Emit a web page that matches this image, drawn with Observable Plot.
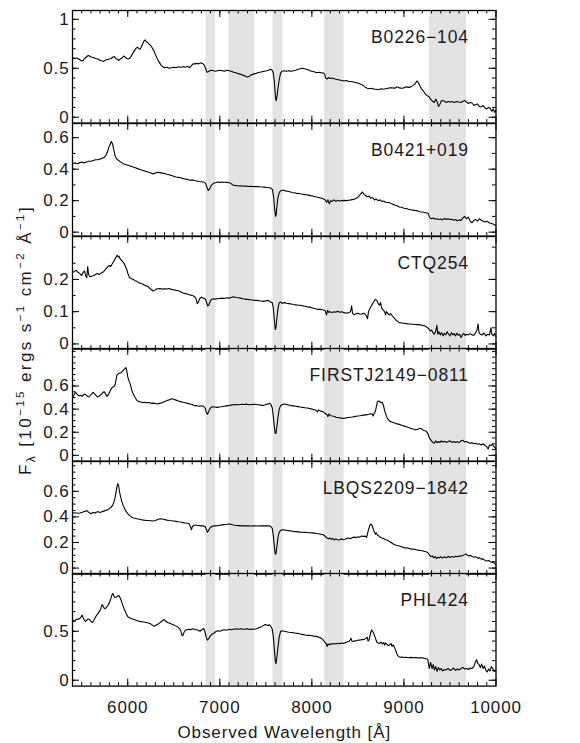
<!DOCTYPE html>
<html><head><meta charset="utf-8">
<script src="https://cdn.jsdelivr.net/npm/d3@7"></script>
<script src="https://cdn.jsdelivr.net/npm/@observablehq/plot@0.6"></script>
<style>
body{margin:0;background:#fff;}
#chart{position:relative;width:580px;height:743px;overflow:hidden;font-family:"Liberation Sans",Arial,sans-serif;}
#chart svg{position:absolute;left:0;overflow:visible;}
</style></head><body><div id="chart"></div>
<script>
// ---- data ----
const objectNames = ["B0226\u2212104","B0421+019","CTQ254","FIRSTJ2149\u22120811","LBQS2209\u22121842","PHL424"];

const specB0226 = [[5400,.61],[5425,.60],[5450,.605],[5475,.59],[5500,.575],[5515,.58],[5530,.60],[5550,.615],[5570,.63],[5585,.625],[5600,.615],[5625,.61],[5650,.60],[5675,.595],[5700,.58],[5725,.575],[5740,.57],[5760,.585],[5780,.59],[5800,.595],[5820,.60],[5840,.615],[5855,.62],[5870,.60],[5890,.59],[5905,.58],[5920,.595],[5940,.605],[5955,.625],[5970,.615],[5990,.60],[6010,.595],[6030,.61],[6050,.645],[6070,.675],[6090,.705],[6105,.715],[6120,.70],[6135,.695],[6150,.725],[6165,.755],[6180,.785],[6190,.79],[6200,.77],[6215,.765],[6230,.75],[6250,.73],[6265,.71],[6285,.675],[6300,.64],[6320,.60],[6340,.565],[6360,.535],[6380,.515],[6400,.505],[6425,.51],[6450,.50],[6475,.505],[6500,.51],[6525,.505],[6550,.515],[6575,.51],[6600,.515],[6625,.51],[6650,.52],[6670,.505],[6690,.525],[6710,.545],[6730,.545],[6750,.55],[6770,.545],[6790,.555],[6810,.55],[6830,.535],[6845,.50],[6860,.46],[6875,.465],[6890,.475],[6910,.48],[6930,.475],[6950,.47],[6975,.475],[7000,.48],[7025,.475],[7050,.47],[7075,.48],[7100,.475],[7125,.47],[7150,.46],[7175,.455],[7200,.445],[7225,.44],[7250,.43],[7275,.42],[7295,.41],[7315,.415],[7335,.43],[7360,.44],[7385,.445],[7410,.455],[7435,.46],[7460,.465],[7485,.47],[7510,.475],[7530,.48],[7550,.49],[7565,.485],[7580,.455],[7592,.37],[7600,.26],[7608,.18],[7614,.17],[7622,.22],[7632,.30],[7645,.38],[7660,.45],[7675,.47],[7700,.475],[7725,.47],[7750,.475],[7775,.47],[7800,.475],[7825,.48],[7850,.49],[7875,.495],[7900,.50],[7920,.495],[7940,.49],[7960,.485],[7980,.475],[8000,.47],[8025,.465],[8050,.455],[8075,.46],[8100,.455],[8125,.45],[8140,.44],[8150,.40],[8165,.39],[8180,.405],[8200,.395],[8225,.40],[8250,.39],[8275,.385],[8300,.38],[8325,.375],[8350,.37],[8375,.375],[8400,.365],[8425,.365],[8450,.36],[8475,.355],[8500,.35],[8525,.34],[8550,.33],[8575,.31],[8600,.295],[8625,.29],[8650,.295],[8675,.285],[8700,.285],[8725,.28],[8750,.29],[8775,.285],[8800,.29],[8825,.295],[8850,.30],[8875,.30],[8900,.295],[8925,.31],[8950,.30],[8975,.295],[9000,.30],[9025,.31],[9050,.305],[9075,.31],[9100,.325],[9120,.34],[9140,.37],[9155,.355],[9170,.33],[9190,.29],[9210,.27],[9230,.24],[9250,.22],[9270,.215],[9285,.19],[9300,.175],[9315,.16],[9330,.15],[9345,.185],[9360,.16],[9375,.11],[9390,.13],[9405,.165],[9420,.17],[9440,.165],[9460,.15],[9480,.16],[9500,.155],[9520,.16],[9545,.15],[9570,.16],[9595,.155],[9620,.15],[9645,.165],[9660,.17],[9680,.155],[9700,.14],[9720,.15],[9740,.145],[9760,.12],[9780,.13],[9800,.135],[9820,.11],[9840,.105],[9860,.12],[9880,.095],[9900,.085],[9920,.10],[9940,.09],[9955,.06],[9970,.085],[9985,.05],[10000,.07]];

const specB0421 = [[5400,.433],[5425,.44],[5450,.435],[5475,.44],[5500,.445],[5525,.44],[5550,.445],[5575,.45],[5600,.45],[5625,.455],[5650,.46],[5675,.46],[5700,.465],[5725,.47],[5745,.475],[5765,.49],[5780,.51],[5795,.54],[5810,.56],[5822,.575],[5835,.56],[5850,.52],[5865,.48],[5880,.465],[5900,.455],[5925,.445],[5950,.435],[5975,.43],[6000,.425],[6025,.42],[6050,.415],[6075,.41],[6100,.405],[6125,.40],[6150,.395],[6175,.39],[6200,.385],[6225,.38],[6250,.375],[6275,.37],[6300,.375],[6325,.38],[6350,.378],[6375,.375],[6400,.372],[6425,.368],[6450,.365],[6475,.36],[6500,.355],[6525,.35],[6550,.348],[6575,.345],[6600,.34],[6625,.338],[6650,.335],[6675,.33],[6700,.332],[6725,.328],[6750,.325],[6775,.322],[6800,.32],[6825,.318],[6845,.31],[6860,.285],[6875,.265],[6890,.275],[6905,.295],[6920,.305],[6940,.312],[6960,.315],[6980,.318],[7000,.316],[7025,.318],[7050,.317],[7075,.316],[7100,.314],[7120,.31],[7140,.30],[7160,.297],[7185,.295],[7210,.293],[7235,.294],[7260,.292],[7285,.293],[7310,.29],[7335,.291],[7360,.29],[7385,.289],[7410,.29],[7435,.288],[7460,.287],[7485,.286],[7510,.284],[7535,.282],[7555,.28],[7572,.27],[7585,.22],[7595,.15],[7605,.10],[7612,.11],[7620,.16],[7630,.215],[7642,.245],[7655,.26],[7670,.265],[7690,.267],[7710,.262],[7735,.26],[7760,.256],[7785,.252],[7810,.25],[7835,.246],[7860,.245],[7885,.242],[7910,.24],[7935,.238],[7960,.235],[7985,.232],[8010,.23],[8035,.225],[8060,.222],[8085,.218],[8110,.214],[8130,.21],[8145,.205],[8160,.19],[8175,.205],[8190,.18],[8205,.2],[8220,.195],[8240,.205],[8260,.195],[8280,.202],[8300,.198],[8325,.2],[8350,.202],[8375,.2],[8400,.203],[8425,.205],[8450,.208],[8475,.212],[8500,.222],[8520,.235],[8540,.25],[8550,.255],[8565,.24],[8580,.235],[8600,.225],[8620,.23],[8640,.215],[8660,.22],[8680,.205],[8700,.21],[8720,.2],[8740,.205],[8760,.195],[8780,.198],[8800,.19],[8825,.188],[8850,.185],[8875,.178],[8900,.172],[8925,.168],[8950,.16],[8975,.158],[9000,.152],[9025,.15],[9050,.145],[9075,.142],[9100,.14],[9125,.138],[9150,.135],[9175,.13],[9200,.128],[9225,.125],[9250,.122],[9265,.118],[9275,.10],[9285,.09],[9300,.085],[9320,.09],[9340,.082],[9360,.085],[9380,.08],[9400,.083],[9420,.078],[9440,.088],[9460,.08],[9480,.085],[9500,.08],[9520,.082],[9540,.076],[9560,.08],[9580,.072],[9600,.078],[9620,.075],[9640,.09],[9660,.1],[9680,.085],[9700,.095],[9720,.07],[9740,.06],[9760,.075],[9780,.08],[9800,.07],[9820,.085],[9840,.075],[9860,.07],[9880,.065],[9900,.07],[9925,.06],[9950,.055],[9975,.05],[10000,.04]];

const specCTQ254 = [[5400,.221],[5420,.225],[5440,.228],[5460,.222],[5480,.218],[5500,.212],[5515,.222],[5530,.226],[5545,.21],[5555,.205],[5565,.24],[5575,.215],[5590,.208],[5610,.21],[5630,.212],[5650,.215],[5670,.218],[5690,.215],[5710,.22],[5730,.222],[5750,.228],[5770,.235],[5785,.24],[5800,.243],[5815,.24],[5830,.248],[5845,.255],[5860,.262],[5875,.27],[5885,.275],[5895,.27],[5905,.272],[5915,.265],[5930,.26],[5945,.255],[5960,.25],[5975,.24],[5990,.23],[6005,.215],[6020,.205],[6040,.202],[6060,.2],[6080,.196],[6100,.194],[6120,.19],[6140,.188],[6160,.186],[6180,.183],[6200,.18],[6220,.178],[6240,.172],[6260,.168],[6275,.164],[6290,.166],[6310,.17],[6330,.171],[6350,.172],[6375,.17],[6400,.171],[6425,.17],[6450,.172],[6475,.169],[6500,.168],[6525,.166],[6550,.165],[6575,.162],[6600,.158],[6625,.156],[6650,.155],[6675,.152],[6700,.15],[6720,.148],[6740,.142],[6755,.125],[6765,.128],[6780,.14],[6800,.145],[6820,.142],[6840,.14],[6855,.13],[6868,.118],[6880,.12],[6895,.132],[6910,.138],[6930,.14],[6950,.139],[6975,.14],[7000,.141],[7025,.142],[7050,.141],[7075,.143],[7100,.142],[7125,.144],[7150,.146],[7175,.144],[7200,.143],[7225,.142],[7250,.14],[7275,.139],[7300,.138],[7325,.137],[7350,.136],[7375,.135],[7400,.135],[7425,.134],[7450,.133],[7475,.132],[7500,.134],[7525,.135],[7550,.13],[7570,.128],[7582,.11],[7592,.075],[7602,.045],[7610,.05],[7620,.08],[7632,.11],[7645,.128],[7660,.13],[7675,.126],[7700,.128],[7725,.126],[7750,.125],[7775,.124],[7800,.122],[7825,.121],[7850,.12],[7875,.12],[7900,.118],[7925,.117],[7950,.115],[7975,.114],[8000,.112],[8025,.11],[8050,.108],[8075,.107],[8100,.107],[8125,.105],[8145,.103],[8160,.09],[8170,.104],[8185,.098],[8200,.1],[8220,.097],[8240,.1],[8260,.098],[8280,.101],[8300,.098],[8325,.1],[8350,.097],[8375,.095],[8400,.097],[8420,.1],[8432,.118],[8442,.095],[8460,.09],[8480,.094],[8500,.095],[8520,.093],[8540,.092],[8560,.095],[8580,.092],[8595,.085],[8605,.078],[8615,.1],[8630,.11],[8650,.12],[8670,.13],[8690,.138],[8705,.135],[8720,.125],[8735,.12],[8745,.128],[8760,.11],[8775,.105],[8790,.1],[8800,.09],[8810,.1],[8825,.095],[8840,.09],[8855,.094],[8870,.088],[8890,.082],[8910,.075],[8930,.07],[8950,.066],[8975,.065],[9000,.064],[9025,.063],[9050,.062],[9075,.062],[9100,.061],[9125,.06],[9150,.06],[9175,.059],[9200,.058],[9225,.056],[9250,.052],[9270,.047],[9285,.04],[9300,.043],[9315,.035],[9330,.03],[9345,.04],[9358,.058],[9368,.03],[9380,.038],[9395,.028],[9410,.035],[9425,.025],[9440,.033],[9455,.028],[9470,.038],[9485,.03],[9500,.025],[9515,.035],[9530,.028],[9545,.032],[9560,.025],[9575,.033],[9590,.027],[9605,.03],[9620,.02],[9635,.028],[9650,.033],[9665,.026],[9680,.03],[9700,.028],[9720,.032],[9740,.028],[9760,.027],[9780,.035],[9795,.045],[9806,.062],[9815,.035],[9830,.03],[9850,.028],[9870,.034],[9890,.025],[9910,.03],[9930,.028],[9945,.05],[9955,.03],[9970,.025],[9985,.032],[10000,.022]];

const specFIRST = [[5400,.50],[5415,.52],[5430,.545],[5445,.535],[5460,.52],[5475,.515],[5490,.52],[5505,.51],[5520,.525],[5535,.53],[5550,.52],[5565,.51],[5580,.505],[5595,.52],[5610,.535],[5625,.545],[5640,.53],[5655,.52],[5670,.505],[5685,.51],[5700,.52],[5715,.53],[5730,.545],[5745,.55],[5760,.53],[5775,.51],[5790,.525],[5805,.55],[5820,.575],[5835,.59],[5850,.595],[5862,.61],[5872,.65],[5882,.695],[5895,.705],[5910,.71],[5925,.715],[5940,.725],[5955,.74],[5968,.75],[5980,.76],[5990,.73],[6000,.68],[6015,.64],[6030,.61],[6045,.56],[6060,.53],[6080,.5],[6100,.475],[6120,.465],[6140,.462],[6160,.458],[6180,.46],[6200,.455],[6220,.458],[6240,.455],[6260,.45],[6280,.452],[6300,.448],[6320,.445],[6340,.45],[6360,.452],[6380,.458],[6400,.465],[6425,.475],[6450,.48],[6475,.49],[6500,.485],[6525,.478],[6550,.47],[6575,.465],[6600,.46],[6625,.455],[6650,.45],[6675,.445],[6700,.44],[6725,.43],[6750,.43],[6775,.425],[6800,.43],[6825,.425],[6840,.41],[6855,.37],[6865,.355],[6875,.37],[6890,.40],[6905,.415],[6920,.42],[6945,.418],[6970,.415],[6995,.418],[7020,.42],[7045,.425],[7070,.428],[7095,.43],[7120,.435],[7145,.438],[7170,.44],[7195,.438],[7220,.44],[7245,.442],[7270,.44],[7295,.443],[7320,.438],[7345,.44],[7370,.442],[7395,.44],[7420,.438],[7445,.435],[7470,.432],[7495,.438],[7520,.445],[7540,.45],[7555,.44],[7570,.41],[7582,.33],[7592,.25],[7602,.19],[7610,.19],[7620,.25],[7632,.33],[7645,.40],[7660,.43],[7680,.44],[7700,.445],[7725,.44],[7750,.435],[7775,.43],[7800,.428],[7825,.425],[7850,.422],[7875,.418],[7900,.415],[7925,.412],[7950,.41],[7975,.405],[8000,.40],[8025,.395],[8045,.39],[8060,.375],[8070,.392],[8090,.385],[8110,.38],[8130,.372],[8150,.36],[8165,.35],[8175,.335],[8185,.358],[8200,.345],[8220,.34],[8240,.338],[8260,.33],[8280,.328],[8300,.325],[8320,.322],[8340,.32],[8360,.322],[8380,.325],[8400,.328],[8420,.33],[8440,.332],[8460,.335],[8480,.338],[8500,.34],[8520,.342],[8540,.345],[8560,.348],[8580,.35],[8600,.352],[8620,.355],[8640,.36],[8655,.358],[8665,.34],[8675,.36],[8690,.38],[8700,.42],[8712,.465],[8725,.47],[8740,.465],[8752,.455],[8765,.46],[8778,.43],[8790,.39],[8805,.35],[8820,.32],[8840,.30],[8860,.29],[8880,.285],[8900,.28],[8925,.272],[8950,.268],[8975,.26],[9000,.255],[9025,.248],[9050,.24],[9075,.232],[9100,.228],[9125,.222],[9150,.225],[9175,.235],[9190,.23],[9205,.22],[9220,.215],[9240,.21],[9255,.195],[9270,.165],[9285,.14],[9300,.125],[9315,.11],[9330,.105],[9345,.125],[9360,.11],[9375,.12],[9390,.11],[9405,.125],[9420,.115],[9440,.122],[9460,.112],[9480,.12],[9500,.125],[9520,.112],[9540,.12],[9560,.112],[9580,.118],[9600,.11],[9620,.125],[9640,.13],[9660,.115],[9680,.12],[9700,.11],[9720,.105],[9740,.11],[9760,.1],[9780,.105],[9800,.095],[9820,.1],[9840,.09],[9860,.1],[9880,.085],[9900,.075],[9915,.055],[9930,.09],[9945,.085],[9960,.095],[9975,.08],[9990,.065],[10000,.055]];

const specLBQS = [[5400,.435],[5420,.432],[5440,.43],[5460,.428],[5480,.43],[5500,.435],[5520,.44],[5540,.445],[5555,.448],[5570,.44],[5585,.43],[5600,.425],[5615,.432],[5630,.435],[5645,.43],[5660,.438],[5680,.44],[5700,.435],[5720,.44],[5740,.445],[5760,.45],[5780,.455],[5800,.465],[5820,.475],[5835,.49],[5850,.515],[5862,.55],[5872,.59],[5882,.635],[5892,.66],[5900,.645],[5910,.60],[5920,.565],[5935,.52],[5950,.49],[5965,.465],[5980,.445],[6000,.425],[6020,.41],[6040,.40],[6060,.392],[6080,.39],[6100,.385],[6125,.382],[6150,.378],[6175,.375],[6200,.373],[6225,.372],[6250,.37],[6275,.368],[6300,.372],[6325,.38],[6350,.385],[6375,.384],[6400,.38],[6425,.375],[6450,.372],[6475,.37],[6500,.368],[6525,.365],[6550,.362],[6575,.36],[6600,.355],[6625,.352],[6650,.35],[6670,.345],[6682,.32],[6692,.30],[6702,.325],[6720,.335],[6745,.335],[6770,.333],[6795,.33],[6820,.33],[6840,.325],[6855,.30],[6865,.28],[6875,.29],[6890,.31],[6905,.322],[6925,.328],[6950,.33],[6975,.332],[7000,.335],[7025,.338],[7050,.34],[7075,.342],[7100,.345],[7120,.343],[7140,.338],[7160,.335],[7185,.333],[7210,.332],[7235,.33],[7260,.33],[7285,.331],[7310,.33],[7335,.329],[7360,.33],[7385,.33],[7410,.329],[7435,.33],[7460,.331],[7485,.33],[7510,.33],[7535,.33],[7555,.325],[7570,.31],[7582,.25],[7592,.17],[7602,.11],[7610,.11],[7620,.17],[7632,.24],[7645,.28],[7660,.295],[7680,.30],[7700,.298],[7725,.295],[7750,.293],[7775,.29],[7800,.287],[7825,.285],[7850,.283],[7875,.281],[7900,.28],[7925,.279],[7950,.278],[7975,.276],[8000,.275],[8025,.273],[8050,.27],[8075,.268],[8100,.265],[8120,.262],[8135,.255],[8150,.245],[8165,.235],[8180,.228],[8195,.236],[8210,.225],[8225,.232],[8240,.22],[8260,.228],[8280,.222],[8300,.22],[8320,.23],[8340,.222],[8360,.226],[8380,.232],[8400,.235],[8420,.23],[8440,.238],[8460,.242],[8480,.238],[8500,.245],[8520,.242],[8540,.25],[8560,.248],[8580,.25],[8595,.24],[8605,.27],[8615,.30],[8628,.33],[8640,.345],[8652,.335],[8665,.31],[8675,.29],[8690,.265],[8700,.275],[8715,.255],[8730,.25],[8745,.24],[8760,.235],[8780,.232],[8800,.222],[8820,.218],[8840,.21],[8860,.2],[8880,.19],[8900,.182],[8920,.178],[8940,.175],[8960,.17],[8980,.165],[9000,.16],[9025,.158],[9050,.155],[9075,.15],[9100,.148],[9125,.145],[9150,.14],[9175,.138],[9200,.135],[9225,.13],[9250,.125],[9265,.115],[9280,.10],[9295,.09],[9310,.095],[9325,.08],[9340,.09],[9355,.075],[9370,.085],[9385,.08],[9400,.09],[9420,.078],[9440,.088],[9460,.08],[9480,.092],[9500,.082],[9520,.09],[9540,.085],[9560,.092],[9580,.088],[9600,.095],[9620,.092],[9640,.1],[9660,.105],[9675,.112],[9690,.10],[9705,.095],[9720,.1],[9740,.09],[9760,.085],[9780,.09],[9800,.078],[9820,.08],[9840,.07],[9860,.072],[9880,.06],[9900,.055],[9920,.06],[9940,.05],[9960,.045],[9980,.04],[10000,.025]];

const specPHL424 = [[5400,.613],[5415,.605],[5430,.61],[5445,.625],[5460,.62],[5475,.63],[5490,.64],[5505,.665],[5515,.64],[5525,.62],[5540,.60],[5555,.615],[5570,.625],[5585,.62],[5600,.6],[5615,.59],[5630,.61],[5645,.635],[5660,.66],[5675,.68],[5690,.70],[5705,.72],[5718,.77],[5728,.765],[5740,.74],[5755,.73],[5770,.745],[5785,.765],[5800,.79],[5815,.83],[5828,.87],[5838,.885],[5850,.86],[5862,.845],[5875,.85],[5890,.86],[5905,.865],[5918,.84],[5930,.81],[5945,.77],[5960,.73],[5975,.70],[5990,.665],[6005,.645],[6025,.635],[6050,.625],[6075,.618],[6100,.61],[6125,.6],[6150,.598],[6175,.595],[6200,.59],[6225,.585],[6250,.575],[6270,.56],[6285,.552],[6300,.56],[6320,.57],[6340,.58],[6360,.595],[6380,.61],[6395,.62],[6410,.605],[6430,.59],[6450,.585],[6475,.575],[6500,.565],[6520,.555],[6540,.545],[6560,.53],[6575,.51],[6590,.455],[6600,.46],[6612,.49],[6625,.51],[6645,.515],[6665,.52],[6685,.515],[6705,.525],[6725,.52],[6745,.515],[6765,.51],[6785,.5],[6805,.515],[6825,.53],[6840,.49],[6852,.44],[6865,.41],[6880,.425],[6895,.45],[6915,.47],[6935,.48],[6955,.495],[6975,.505],[7000,.50],[7025,.51],[7050,.515],[7075,.51],[7100,.52],[7125,.515],[7150,.52],[7175,.525],[7200,.52],[7225,.525],[7250,.52],[7275,.522],[7300,.525],[7325,.518],[7350,.522],[7375,.52],[7400,.525],[7425,.535],[7450,.545],[7475,.56],[7495,.57],[7510,.565],[7525,.56],[7540,.565],[7555,.55],[7570,.52],[7582,.44],[7592,.32],[7602,.2],[7610,.17],[7620,.24],[7632,.34],[7645,.44],[7660,.5],[7680,.505],[7700,.5],[7725,.495],[7750,.49],[7775,.488],[7800,.485],[7825,.48],[7850,.478],[7875,.472],[7900,.468],[7925,.462],[7950,.458],[7975,.46],[8000,.455],[8025,.45],[8050,.448],[8075,.44],[8100,.43],[8120,.415],[8140,.39],[8155,.375],[8165,.345],[8175,.37],[8190,.36],[8205,.375],[8220,.368],[8240,.375],[8260,.37],[8280,.378],[8300,.372],[8320,.38],[8340,.376],[8360,.383],[8380,.39],[8400,.395],[8415,.41],[8425,.43],[8435,.4],[8450,.395],[8470,.402],[8490,.405],[8510,.41],[8530,.412],[8550,.415],[8570,.418],[8590,.43],[8600,.44],[8610,.40],[8620,.41],[8635,.47],[8648,.515],[8660,.5],[8675,.47],[8690,.43],[8705,.39],[8720,.38],[8735,.375],[8750,.39],[8765,.37],[8780,.385],[8790,.36],[8800,.38],[8815,.365],[8830,.355],[8845,.36],[8860,.375],[8870,.345],[8885,.36],[8900,.33],[8915,.29],[8930,.255],[8945,.24],[8960,.235],[8980,.238],[9000,.232],[9025,.235],[9050,.23],[9075,.233],[9100,.23],[9125,.232],[9150,.228],[9175,.23],[9200,.228],[9225,.225],[9245,.22],[9260,.21],[9275,.12],[9290,.18],[9305,.12],[9318,.16],[9330,.105],[9345,.14],[9360,.09],[9375,.13],[9390,.105],[9405,.12],[9420,.095],[9440,.11],[9460,.105],[9480,.12],[9500,.1],[9520,.11],[9540,.125],[9560,.1],[9580,.115],[9600,.105],[9620,.12],[9640,.13],[9660,.115],[9680,.12],[9700,.11],[9720,.125],[9740,.12],[9760,.14],[9775,.185],[9790,.21],[9800,.175],[9815,.16],[9830,.13],[9845,.165],[9860,.12],[9875,.145],[9890,.1],[9905,.085],[9920,.115],[9935,.095],[9950,.14],[9965,.12],[9980,.09],[10000,.1]];

const spectra = [specB0226, specB0421, specCTQ254, specFIRST, specLBQS, specPHL424];

// masked telluric bands (Å)
const bandStart = [6850, 7100, 7578, 8140, 9275];
const bandEnd   = [6955, 7380, 7685, 8350, 9680];

const xTickLabels = [6000, 7000, 8000, 9000, 10000];
const yTickLabels = [[0, 0.5, 1], [0, 0.2, 0.4, 0.6], [0, 0.1, 0.2], [0, 0.2, 0.4, 0.6], [0, 0.2, 0.4, 0.6], [0, 0.5]];

// ---- scale / layout options ----
const yDomains = [[-0.06, 1.09], [-0.025, 0.69], [-0.016, 0.333], [-0.05, 0.925], [-0.047, 0.833], [-0.06, 1.09]];
const yMinorStep = [0.1, 0.1, 0.05, 0.05, 0.05, 0.1];
const xDomain = [5400, 10000];

const W = 580, ML = 72, MR = 84.5, panelH = 112.6, top0 = 10.3;
const frameW = W - ML - MR;
const FONT = "'Liberation Sans', Arial, sans-serif";
const FS = 17;
const INK = "#1a1a1a";

const bands = bandStart.map((s, i) => ({lo: s, hi: bandEnd[i]}));
const xMinor = d3.range(5500, 10000, 100);

const chart = document.getElementById("chart");

spectra.forEach((spec, i) => {
  const isLast = i === spectra.length - 1;
  const mt = 12, mb = isLast ? 60 : 12;
  const [y0, y1] = yDomains[i];
  const st = yMinorStep[i];
  const yMinor = d3.range(Math.ceil(y0 / st + 1e-6), Math.floor(y1 / st - 1e-6) + 1).map(k => +(k * st).toFixed(3));
  const data = spec.map(([w, f]) => ({w, f}));
  const tickStyle = {stroke: "#000", strokeWidth: 1};
  const marks = [
    Plot.rect(bands, {x1: "lo", x2: "hi", fill: "#e3e3e3"}),
    Plot.line(data, {x: "w", y: "f", stroke: "#000", strokeWidth: 1.1}),
    Plot.tickX(xMinor, {x: d => d, insetBottom: panelH - 3.5, ...tickStyle}),
    Plot.tickX(xMinor, {x: d => d, insetTop: panelH - 3.5, ...tickStyle}),
    Plot.tickX(xTickLabels, {x: d => d, insetBottom: panelH - 7, ...tickStyle}),
    Plot.tickX(xTickLabels, {x: d => d, insetTop: panelH - 7, ...tickStyle}),
    Plot.tickY(yMinor, {y: d => d, insetRight: frameW - 3.5, ...tickStyle}),
    Plot.tickY(yMinor, {y: d => d, insetLeft: frameW - 3.5, ...tickStyle}),
    Plot.tickY(yTickLabels[i], {y: d => d, insetRight: frameW - 7, ...tickStyle}),
    Plot.tickY(yTickLabels[i], {y: d => d, insetLeft: frameW - 7, ...tickStyle}),
    Plot.frame({stroke: "#000", strokeWidth: 1.3}),
    Plot.axisY(yTickLabels[i], {tickSize: 0, tickPadding: 3, fontSize: FS, fill: INK, label: null, tickFormat: d => String(d)}),
    Plot.text([objectNames[i]], {frameAnchor: "top-right", dx: -27, dy: 26.5, lineAnchor: "middle", textAnchor: "end", fontSize: FS + 0.5, fill: INK})
  ];
  if (isLast) {
    marks.push(Plot.axisX(xTickLabels, {tickSize: 0, tickPadding: 15, fontSize: FS, fill: INK, label: null, tickFormat: d => String(d)}));
    marks.push(Plot.text(["Observed Wavelength [\u00c5]"], {frameAnchor: "bottom", dy: 46, lineAnchor: "middle", fontSize: FS, fill: INK}));
  }
  const svg = Plot.plot({
    width: W,
    height: panelH + mt + mb,
    marginLeft: ML, marginRight: MR, marginTop: mt, marginBottom: mb,
    x: isLast ? {domain: xDomain} : {domain: xDomain, axis: null},
    y: {domain: yDomains[i], axis: null},
    style: {background: "transparent", overflow: "visible", fontFamily: FONT, fontSize: FS + "px", color: "#000", letterSpacing: "0.9px"},
    marks
  });
  svg.style.top = (top0 + i * panelH - mt) + "px";
  chart.appendChild(svg);
});

// y-axis title
const ns = "http://www.w3.org/2000/svg";
const tsvg = document.createElementNS(ns, "svg");
tsvg.setAttribute("width", 60); tsvg.setAttribute("height", 743);
tsvg.style.top = "0px";
tsvg.innerHTML = `<text transform="translate(31,340) rotate(-90)" text-anchor="middle" font-family="Liberation Sans, Arial, sans-serif" font-size="${FS}" fill="${INK}" style="letter-spacing:2.4px">F<tspan dy="4" font-size="12">\u03bb</tspan><tspan dy="-4"> [10</tspan><tspan dy="-7" font-size="11.5">\u221215</tspan><tspan dy="7"> ergs s</tspan><tspan dy="-7" font-size="11.5">\u22121</tspan><tspan dy="7"> cm</tspan><tspan dy="-7" font-size="11.5">\u22122</tspan><tspan dy="7"> \u00c5</tspan><tspan dy="-7" font-size="11.5">\u22121</tspan><tspan dy="7">]</tspan></text>`;
chart.appendChild(tsvg);
</script></body></html>
